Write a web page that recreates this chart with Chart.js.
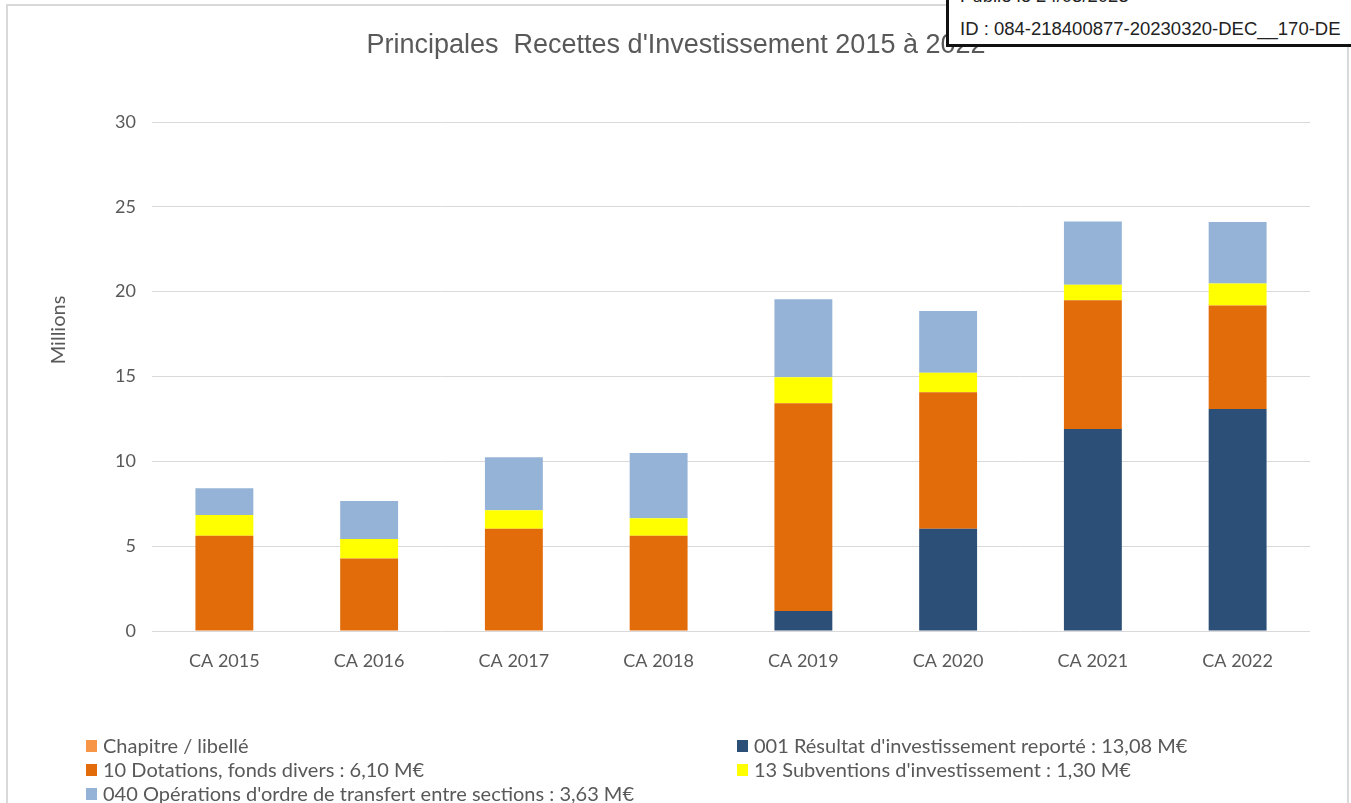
<!DOCTYPE html>
<html lang="fr">
<head>
<meta charset="utf-8">
<title>Recettes d'investissement</title>
<script src="https://cdn.jsdelivr.net/npm/chart.js@4/dist/chart.umd.min.js"></script>
<style>
    body { margin: 0; background: #fff; overflow: hidden; }
    #cadre { position: absolute; left: 6px; top: 4px; width: 1339px; height: 900px; border: 2px solid #d9d9d9; pointer-events: none; }
    #zone { position: absolute; left: 0; top: 0; width: 1351px; height: 803px; }
    #tampon { position: absolute; left: 946px; top: -30px; width: 420px; height: 71px; border: 3px solid #111; background: #fff; font-family: "Liberation Sans", Arial, sans-serif; font-size: 18.5px; color: #222; }
    #tampon div { position: absolute; left: 11px; white-space: nowrap; line-height: 20px; }
</style>
</head>
<body>
<div id="zone"><canvas id="myChartRecettes" width="1351" height="803"></canvas></div>
<div id="cadre"></div>
<div id="tampon">
    <div style="top:13px">Publié le 24/03/2023</div>
    <div style="top:46px">ID : 084-218400877-20230320-DEC__170-DE</div>
</div>
<script>
// Comptes administratifs 2015 à 2022, en millions d'euros
const annees = ['CA 2015', 'CA 2016', 'CA 2017', 'CA 2018', 'CA 2019', 'CA 2020', 'CA 2021', 'CA 2022'];
const chapitre = [null, null, null, null, null, null, null, null];
const resultatReporte = [0, 0, 0, 0, 1.18, 6.03, 11.90, 13.08];
const dotations = [5.62, 4.28, 6.03, 5.62, 12.24, 8.04, 7.59, 6.10];
const subventions = [1.22, 1.14, 1.08, 1.02, 1.53, 1.15, 0.92, 1.30];
const operationsOrdre = [1.57, 2.24, 3.13, 3.85, 4.60, 3.64, 3.73, 3.63];
const ticksY = [0, 5, 10, 15, 20, 25, 30];

const titre = "Principales  Recettes d'Investissement 2015 à 2022";
const gris = '#595959';
const police = 'Lato, "Open Sans", sans-serif';

//Titre + légende dessinés à la main (légende sur 2 colonnes comme dans le tableur)
//+ le titre "Millions" de l'axe, un peu au dessus du milieu
const habillage = {
    id: 'habillage',
    afterDraw(chart) {
        const ctx = chart.ctx;
        ctx.save();
        ctx.fillStyle = gris;
        ctx.textAlign = 'center';
        ctx.textBaseline = 'middle';
        ctx.font = '27px "Liberation Sans", Arial, sans-serif';
        ctx.fillText(titre, 676, 46);

        const places = [[86, 746], [737, 746], [86, 770], [737, 770], [86, 794]];
        ctx.font = '20px ' + police;
        ctx.textAlign = 'left';
        chart.data.datasets.forEach((ds, i) => {
            const p = places[i];
            ctx.fillStyle = ds.backgroundColor;
            ctx.fillRect(p[0], p[1] - 6, 11, 12);
            ctx.fillStyle = gris;
            ctx.fillText(ds.label, p[0] + 17, p[1] + 1);
        });

        ctx.translate(59, 330);
        ctx.rotate(-Math.PI / 2);
        ctx.textAlign = 'center';
        ctx.fillText('Millions', 0, 0);
        ctx.restore();
    }
};

const dataRecettes = {
    labels: annees,
    datasets: [
        { label: 'Chapitre / libellé', data: chapitre, backgroundColor: '#F79646' },
        { label: "001 Résultat d'investissement reporté : 13,08 M€", data: resultatReporte, backgroundColor: '#2C4F77' },
        { label: '10 Dotations, fonds divers : 6,10 M€', data: dotations, backgroundColor: '#E36C0A' },
        { label: "13 Subventions d'investissement : 1,30 M€", data: subventions, backgroundColor: '#FFFF00' },
        { label: "040 Opérations d'ordre de transfert entre sections : 3,63 M€", data: operationsOrdre, backgroundColor: '#95B3D7' }
    ]
};

const configRecettes = {
    type: 'bar',
    data: dataRecettes,
    plugins: [habillage],
    options: {
        responsive: false,
        animation: false,
        datasets: {
            bar: { categoryPercentage: 1, barPercentage: 0.4, borderWidth: 0 }
        },
        layout: { padding: { left: 0, right: 41, top: 122, bottom: 0 } },
        plugins: {
            legend: { display: false },
            tooltip: { enabled: false },
            title: { display: false }
        },
        scales: {
            x: {
                stacked: true,
                grid: { display: false },
                border: { display: false },
                ticks: { color: gris, font: { family: police, size: 18 }, padding: 11 },
                afterFit: (scale) => { scale.height = 172; }
            },
            y: {
                stacked: true,
                min: 0,
                max: 30,
                afterBuildTicks: (scale) => { scale.ticks = ticksY.map(v => ({ value: v })); },
                grid: { color: '#d9d9d9', lineWidth: 1, drawTicks: false },
                border: { display: false },
                ticks: { color: gris, font: { family: police, size: 18 }, padding: 16 },
                afterFit: (scale) => { scale.width = 152; }
            }
        }
    }
};

window.addEventListener('load', (event) => {
    const myChartRecettes = new Chart(
        document.getElementById('myChartRecettes'),
        configRecettes
    );
});
</script>
</body>
</html>
